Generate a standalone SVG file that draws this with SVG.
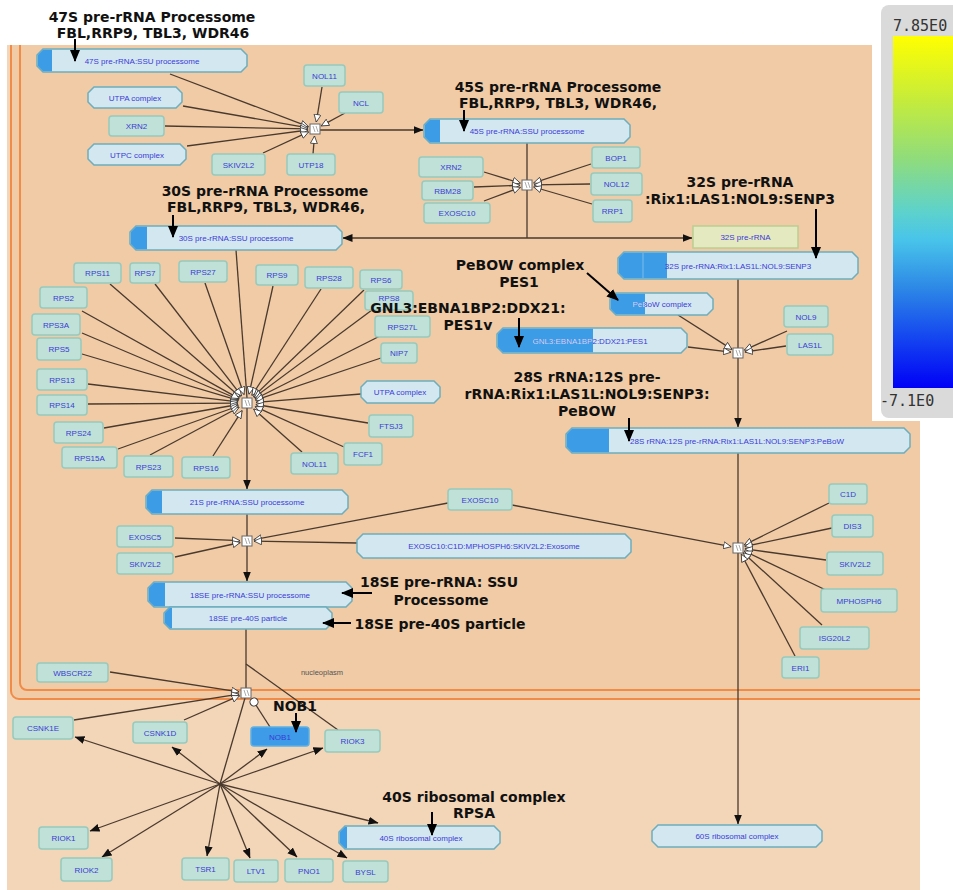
<svg xmlns="http://www.w3.org/2000/svg" width="953" height="890" viewBox="0 0 953 890">
<style>
.prot rect{fill:#BFE1D7;stroke:#97CABD;stroke-width:1.5}
.nob rect{fill:#3D9BE8;stroke:#5FB0E2;stroke-width:1.5}
.cx path{fill:#D3E7F1;stroke:#6DADBC;stroke-width:1.5}
.cx path.st{fill:#3C9CE6;stroke:none}
.rna rect{fill:#E5E9C0;stroke:#B9CE92;stroke-width:1.5}
.n text{font-family:"Liberation Sans",Arial,sans-serif;font-size:8px;fill:#3B3BD6;text-anchor:middle}
.e line{stroke:#4A3A2E;stroke-width:1.3;fill:none}
.e .o{marker-end:url(#open)}
.e .f{marker-end:url(#fill)}
.proc rect{fill:#fff;stroke:#666;stroke-width:1}
.proc path{stroke:#888;stroke-width:0.7;fill:none}
.ann text{font-family:"DejaVu Sans","Liberation Sans",sans-serif;font-weight:bold;font-size:14px;fill:#111;text-anchor:middle}
.ann line{stroke:#000;stroke-width:2;marker-end:url(#ann)}
.cb text{font-family:"DejaVu Sans Mono","Liberation Mono",monospace;font-size:15px;fill:#333}
</style>
<defs>
<marker id="open" markerWidth="9" markerHeight="8" refX="8" refY="4" orient="auto" markerUnits="userSpaceOnUse"><path d="M0.5,0.5 L8,4 L0.5,7.5 Z" fill="#fff" stroke="#333" stroke-width="0.8"/></marker>
<marker id="fill" markerWidth="10" markerHeight="8" refX="9.5" refY="4" orient="auto" markerUnits="userSpaceOnUse"><path d="M0,0 L10,4 L0,8 Z" fill="#111"/></marker>
<marker id="ann" markerWidth="12" markerHeight="10" refX="11" refY="5" orient="auto" markerUnits="userSpaceOnUse"><path d="M0,0 L12,5 L0,10 Z" fill="#000"/></marker>
<marker id="cat" markerWidth="10" markerHeight="10" refX="5" refY="5" orient="auto" markerUnits="userSpaceOnUse"><circle cx="5" cy="5" r="4" fill="#fff" stroke="#333" stroke-width="1"/></marker>
<clipPath id="area"><rect x="7" y="45" width="913" height="845"/></clipPath>
<clipPath id="clipGnl"><rect x="497" y="328" width="96" height="25"/></clipPath>
<clipPath id="clipPeb"><rect x="610" y="293" width="35" height="22"/></clipPath>
<linearGradient id="grad" x1="0" y1="0" x2="0" y2="1">
<stop offset="0" stop-color="#FFFF00"/>
<stop offset="0.18" stop-color="#C6EC3A"/>
<stop offset="0.35" stop-color="#8FDC7C"/>
<stop offset="0.5" stop-color="#5DD2CC"/>
<stop offset="0.58" stop-color="#48C4EA"/>
<stop offset="0.72" stop-color="#2C86E6"/>
<stop offset="0.86" stop-color="#1444F0"/>
<stop offset="1" stop-color="#0000F6"/>
</linearGradient>
</defs>

<rect width="953" height="890" fill="#fff"/>
<g id="compartments" clip-path="url(#area)">
<rect x="7" y="45" width="913" height="845" fill="#F3D5B8"/>
<rect x="11" y="20" width="950" height="679" rx="8" fill="#F0CBA6" stroke="#F08C48" stroke-width="2"/>
<rect x="20" y="20" width="950" height="670" rx="7" fill="none" stroke="#F08C48" stroke-width="2"/>
<text x="322" y="675" font-family="Liberation Sans,Arial,sans-serif" font-size="7.5" fill="#555" text-anchor="middle">nucleoplasm</text>
</g>

<g id="edges" class="e">
<line class="o" x1="170" y1="74" x2="308.4" y2="126.6"/>
<line class="o" x1="183" y1="106" x2="308.1" y2="127.8"/>
<line class="o" x1="165" y1="126" x2="308" y2="128.9"/>
<line class="o" x1="187" y1="146" x2="308.1" y2="130"/>
<line class="o" x1="263" y1="153" x2="308.6" y2="131.9"/>
<line class="o" x1="313" y1="154" x2="314.5" y2="136"/>
<line class="o" x1="322" y1="87" x2="316.3" y2="122"/>
<line class="o" x1="345" y1="113" x2="321.3" y2="125.9"/>
<line class="f" x1="320" y1="130" x2="423" y2="130"/>

<line class="o" x1="484" y1="172" x2="520.3" y2="183.1"/>
<line class="o" x1="474" y1="187" x2="520" y2="185.3"/>
<line class="o" x1="484" y1="201" x2="520.4" y2="187.3"/>
<line class="o" x1="591" y1="164" x2="533.7" y2="182.9"/>
<line class="o" x1="590" y1="184" x2="534" y2="184.9"/>
<line class="o" x1="592" y1="204" x2="533.7" y2="187"/>
<line x1="527" y1="143" x2="527" y2="180"/>
<line x1="527" y1="190" x2="527" y2="238"/>
<line class="f" x1="527" y1="238" x2="343" y2="238"/>
<line class="f" x1="527" y1="238" x2="692" y2="238"/>

<line class="o" x1="678" y1="315" x2="732" y2="349.4"/>
<line class="o" x1="688" y1="347" x2="731" y2="352.2"/>
<line class="o" x1="787" y1="331" x2="744.4" y2="350.1"/>
<line class="o" x1="786" y1="346" x2="744.9" y2="352"/>
<line x1="738" y1="279" x2="738" y2="348"/>
<line class="f" x1="738" y1="358" x2="738" y2="427"/>

<line x1="738" y1="453" x2="738" y2="543"/>
<line class="f" x1="738" y1="553" x2="738" y2="824"/>
<line class="o" x1="512" y1="505" x2="731.1" y2="546.7"/>
<line class="o" x1="829" y1="503" x2="744.3" y2="544.9"/>
<line class="o" x1="832" y1="528" x2="744.8" y2="546.5"/>
<line class="o" x1="826" y1="560" x2="744.9" y2="548.9"/>
<line class="o" x1="830" y1="592" x2="744.3" y2="551"/>
<line class="o" x1="822" y1="625" x2="743.2" y2="552.7"/>
<line class="o" x1="795" y1="656" x2="741.3" y2="554.2"/>

<line x1="236" y1="250" x2="247" y2="398"/>
<line class="f" x1="247" y1="408" x2="247" y2="489"/>
<line class="o" x1="110" y1="284" x2="240.2" y2="397.1"/>
<line class="o" x1="155" y1="284" x2="241.5" y2="395.9"/>
<line class="o" x1="205" y1="283" x2="244" y2="394.5"/>
<line class="o" x1="273" y1="286" x2="249" y2="394.2"/>
<line class="o" x1="321" y1="289" x2="251.9" y2="395.4"/>
<line class="o" x1="364" y1="290" x2="253.5" y2="396.7"/>
<line class="o" x1="372" y1="310" x2="254.2" y2="397.6"/>
<line class="o" x1="380" y1="336" x2="255" y2="399"/>
<line class="o" x1="381" y1="358" x2="255.5" y2="400.1"/>
<line class="o" x1="361" y1="394" x2="256" y2="402.3"/>
<line class="o" x1="368" y1="423" x2="255.9" y2="404.5"/>
<line class="o" x1="344" y1="447" x2="255.2" y2="406.7"/>
<line class="o" x1="302" y1="452" x2="253.7" y2="409"/>
<line class="o" x1="213" y1="456" x2="242.1" y2="410.6"/>
<line class="o" x1="150" y1="455" x2="239.1" y2="407.3"/>
<line class="o" x1="118" y1="449" x2="238.5" y2="406"/>
<line class="o" x1="104" y1="428" x2="238.1" y2="404.5"/>
<line class="o" x1="88" y1="404" x2="238" y2="403.1"/>
<line class="o" x1="88" y1="384" x2="238.1" y2="401.9"/>
<line class="o" x1="82" y1="354" x2="238.4" y2="400.4"/>
<line class="o" x1="82" y1="333" x2="238.7" y2="399.5"/>
<line class="o" x1="82" y1="311" x2="239.1" y2="398.6"/>

<line x1="247" y1="514" x2="247" y2="536"/>
<line class="f" x1="247" y1="546" x2="247" y2="581"/>
<line class="o" x1="175" y1="538" x2="240" y2="540.7"/>
<line class="o" x1="175" y1="557" x2="240.2" y2="542.5"/>
<line class="o" x1="448" y1="503" x2="253.9" y2="539.7"/>
<line class="o" x1="357" y1="543" x2="254" y2="541.1"/>

<line x1="246" y1="629" x2="246" y2="688"/>
<line x1="338" y1="730" x2="246" y2="664"/>
<line class="o" x1="110" y1="672" x2="239.1" y2="691.9"/>
<line class="o" x1="74" y1="720" x2="239.1" y2="694.2"/>
<line class="o" x1="184" y1="720" x2="239.5" y2="695.7"/>
<line x1="270" y1="727" x2="254" y2="702" marker-end="url(#cat)"/>
<line x1="245" y1="698" x2="220" y2="784"/>
<line class="f" x1="220" y1="784" x2="75" y2="737"/>
<line class="f" x1="220" y1="784" x2="172" y2="747"/>
<line class="f" x1="220" y1="784" x2="267" y2="749"/>
<line class="f" x1="220" y1="784" x2="323" y2="748"/>
<line class="f" x1="220" y1="784" x2="378" y2="823"/>
<line class="f" x1="220" y1="784" x2="90" y2="831"/>
<line class="f" x1="220" y1="784" x2="102" y2="857"/>
<line class="f" x1="220" y1="784" x2="207" y2="856"/>
<line class="f" x1="220" y1="784" x2="250" y2="858"/>
<line class="f" x1="220" y1="784" x2="297" y2="857"/>
<line class="f" x1="220" y1="784" x2="347" y2="858"/>
</g>

<g id="processes" class="proc">
<g id="p1"><rect x="310" y="124" width="10" height="10"/><path d="M313,126 L315,132 M316,126 L318,132"/></g>
<g id="p2"><rect x="522" y="180" width="10" height="10"/><path d="M525,182 L527,188 M528,182 L530,188"/></g>
<g id="p3"><rect x="733" y="348" width="10" height="10"/><path d="M736,350 L738,356 M739,350 L741,356"/></g>
<g id="p4"><rect x="733" y="543" width="10" height="10"/><path d="M736,545 L738,551 M739,545 L741,551"/></g>
<g id="p5"><rect x="242" y="536" width="10" height="10"/><path d="M245,538 L247,544 M248,538 L250,544"/></g>
<g id="p6"><rect x="241" y="688" width="10" height="10"/><path d="M244,690 L246,696 M247,690 L249,696"/></g>
<g id="p7"><rect x="242" y="398" width="10" height="10"/><path d="M245,400 L247,406 M248,400 L250,406"/></g>
</g>

<g id="complexes" class="n">
<g id="c47S" class="cx"><path d="M43,49 H241 L247,55 V66 L241,72 H43 L37,66 V55 Z"/><path class="st" d="M43,49.8 H52 V71.2 H43 L37.8,66 V55 Z"/><text x="142" y="63.5">47S pre-rRNA:SSU processome</text></g>
<g id="cUTPA1" class="cx"><path d="M94,87 H176 L182,93 V102 L176,108 H94 L88,102 V93 Z"/><text x="135" y="100.5">UTPA complex</text></g>
<g id="cUTPC" class="cx"><path d="M94,144 H180 L186,150 V159 L180,165 H94 L88,159 V150 Z"/><text x="137" y="157.5">UTPC complex</text></g>
<g id="c45S" class="cx"><path d="M430,119 H624 L630,125 V137 L624,143 H430 L424,137 V125 Z"/><path class="st" d="M430,119.8 H440 V142.2 H430 L424.8,137 V125 Z"/><text x="527" y="134">45S pre-rRNA:SSU processome</text></g>
<g id="c30S" class="cx"><path d="M136,226 H336 L342,232 V244 L336,250 H136 L130,244 V232 Z"/><path class="st" d="M136,226.8 H147 V249.2 H136 L130.8,244 V232 Z"/><text x="236" y="241">30S pre-rRNA:SSU processome</text></g>
<g id="c32S" class="cx"><path d="M624,252 H852 L858,258 V273 L852,279 H624 L618,273 V258 Z"/><path class="st" d="M624,252.8 H667 V278.2 H624 L618.8,273 V258 Z"/><line x1="643" y1="253" x2="643" y2="278" stroke="#7DBCEB" stroke-width="1"/><text x="738" y="268.5">32S pre-rRNA:Rix1:LAS1L:NOL9:SENP3</text></g>
<g id="cPeBoW" class="cx"><path d="M616,293 H707 L713,299 V309 L707,315 H616 L610,309 V299 Z"/><path class="st" d="M616,293.8 H645 V314.2 H616 L610.8,309 V299 Z"/><text x="662" y="307">PeBoW complex</text><text x="662" y="307" clip-path="url(#clipPeb)" style="fill:#D6E8F8">PeBoW complex</text></g>
<g id="cGNL3" class="cx"><path d="M503,328 H681 L687,334 V347 L681,353 H503 L497,347 V334 Z"/><path class="st" d="M503,328.8 H593 V352.2 H503 L497.8,347 V334 Z"/><text x="590" y="343.5">GNL3:EBNA1BP2:DDX21:PES1</text><text x="590" y="343.5" clip-path="url(#clipGnl)" style="fill:#D6E8F8">GNL3:EBNA1BP2:DDX21:PES1</text></g>
<g id="c28S" class="cx"><path d="M572,428 H904 L910,434 V447 L904,453 H572 L566,447 V434 Z"/><path class="st" d="M572,428.8 H609 V452.2 H572 L566.8,447 V434 Z"/><text x="737" y="443.5">28S rRNA:12S pre-rRNA:Rix1:LAS1L:NOL9:SENP3:PeBoW</text></g>
<g id="cUTPA2" class="cx"><path d="M367,381 H434 L440,387 V397 L434,403 H367 L361,397 V387 Z"/><text x="400" y="395">UTPA complex</text></g>
<g id="c21S" class="cx"><path d="M152,490 H342 L348,496 V508 L342,514 H152 L146,508 V496 Z"/><path class="st" d="M152,490.8 H162 V513.2 H152 L146.8,508 V496 Z"/><text x="247" y="505">21S pre-rRNA:SSU processome</text></g>
<g id="cExosome" class="cx"><path d="M363,534 H625 L631,540 V552 L625,558 H363 L357,552 V540 Z"/><text x="494" y="549">EXOSC10:C1D:MPHOSPH6:SKIV2L2:Exosome</text></g>
<g id="c18SE" class="cx"><path d="M154,582 H346 L352,588 V601 L346,607 H154 L148,601 V588 Z"/><path class="st" d="M154,582.8 H165 V606.2 H154 L148.8,601 V588 Z"/><text x="250" y="597.5">18SE pre-rRNA:SSU processome</text></g>
<g id="c18pre40S" class="cx"><path d="M170,607 H326 L332,613 V623 L326,629 H170 L164,623 V613 Z"/><path class="st" d="M170,607.8 H172 V628.2 H170 L164.8,623 V613 Z"/><text x="248" y="621">18SE pre-40S particle</text></g>
<g id="c40S" class="cx"><path d="M345,826 H494 L500,832 V843 L494,849 H345 L339,843 V832 Z"/><path class="st" d="M345,826.8 H347 V848.2 H345 L339.8,843 V832 Z"/><text x="421" y="840.5">40S ribosomal complex</text></g>
<g id="c60S" class="cx"><path d="M658,825 H816 L822,831 V841 L816,847 H658 L652,841 V831 Z"/><text x="737" y="839">60S ribosomal complex</text></g>
<g id="r32S" class="rna"><rect x="693" y="226" width="105" height="22"/><text x="745.5" y="240">32S pre-rRNA</text></g>
</g>

<g id="proteins" class="n">
<g id="NOL11a" class="prot"><rect x="304" y="65" width="41" height="21" rx="3"/><text x="324.5" y="78.5">NOL11</text></g>
<g id="NCL" class="prot"><rect x="339" y="92" width="44" height="21" rx="3"/><text x="361" y="105.5">NCL</text></g>
<g id="XRN2a" class="prot"><rect x="109" y="116" width="55" height="20" rx="3"/><text x="136.5" y="129">XRN2</text></g>
<g id="SKIV2L2a" class="prot"><rect x="212" y="154" width="53" height="21" rx="3"/><text x="238.5" y="167.5">SKIV2L2</text></g>
<g id="UTP18" class="prot"><rect x="287" y="154" width="48" height="21" rx="3"/><text x="311" y="167.5">UTP18</text></g>
<g id="XRN2b" class="prot"><rect x="419" y="157" width="64" height="20" rx="3"/><text x="451" y="170">XRN2</text></g>
<g id="RBM28" class="prot"><rect x="422" y="181" width="51" height="19" rx="3"/><text x="447.5" y="193.5">RBM28</text></g>
<g id="EXOSC10a" class="prot"><rect x="424" y="203" width="66" height="20" rx="3"/><text x="457" y="216">EXOSC10</text></g>
<g id="BOP1" class="prot"><rect x="592" y="147" width="48" height="21" rx="3"/><text x="616" y="160.5">BOP1</text></g>
<g id="NOL12" class="prot"><rect x="591" y="173" width="51" height="22" rx="3"/><text x="616.5" y="187">NOL12</text></g>
<g id="RRP1" class="prot"><rect x="593" y="200" width="39" height="22" rx="3"/><text x="612.5" y="214">RRP1</text></g>
<g id="NOL9" class="prot"><rect x="784" y="306" width="44" height="21" rx="3"/><text x="806" y="319.5">NOL9</text></g>
<g id="LAS1L" class="prot"><rect x="787" y="334" width="46" height="21" rx="3"/><text x="810" y="347.5">LAS1L</text></g>
<g id="RPS11" class="prot"><rect x="74" y="263" width="47" height="20" rx="3"/><text x="97.5" y="276">RPS11</text></g>
<g id="RPS7" class="prot"><rect x="130" y="263" width="30" height="20" rx="3"/><text x="145" y="276">RPS7</text></g>
<g id="RPS27" class="prot"><rect x="179" y="261" width="48" height="21" rx="3"/><text x="203" y="274.5">RPS27</text></g>
<g id="RPS9" class="prot"><rect x="256" y="265" width="42" height="20" rx="3"/><text x="277" y="278">RPS9</text></g>
<g id="RPS28" class="prot"><rect x="305" y="267" width="48" height="21" rx="3"/><text x="329" y="280.5">RPS28</text></g>
<g id="RPS6" class="prot"><rect x="360" y="270" width="42" height="19" rx="3"/><text x="381" y="282.5">RPS6</text></g>
<g id="RPS8" class="prot"><rect x="365" y="291" width="48" height="19" rx="3"/><text x="389" y="301">RPS8</text></g>
<g id="RPS27L" class="prot"><rect x="375" y="316" width="55" height="21" rx="3"/><text x="402.5" y="329.5">RPS27L</text></g>
<g id="NIP7" class="prot"><rect x="381" y="343" width="36" height="20" rx="3"/><text x="399" y="356">NIP7</text></g>
<g id="FTSJ3" class="prot"><rect x="369" y="415" width="44" height="22" rx="3"/><text x="391" y="429">FTSJ3</text></g>
<g id="FCF1" class="prot"><rect x="344" y="443" width="38" height="22" rx="3"/><text x="363" y="457">FCF1</text></g>
<g id="NOL11b" class="prot"><rect x="291" y="453" width="47" height="21" rx="3"/><text x="314.5" y="466.5">NOL11</text></g>
<g id="RPS16" class="prot"><rect x="182" y="457" width="48" height="21" rx="3"/><text x="206" y="470.5">RPS16</text></g>
<g id="RPS23" class="prot"><rect x="124" y="456" width="49" height="21" rx="3"/><text x="148.5" y="469.5">RPS23</text></g>
<g id="RPS15A" class="prot"><rect x="62" y="447" width="55" height="21" rx="3"/><text x="89.5" y="460.5">RPS15A</text></g>
<g id="RPS24" class="prot"><rect x="54" y="422" width="49" height="21" rx="3"/><text x="78.5" y="435.5">RPS24</text></g>
<g id="RPS14" class="prot"><rect x="37" y="395" width="50" height="20" rx="3"/><text x="62" y="408">RPS14</text></g>
<g id="RPS13" class="prot"><rect x="37" y="369" width="50" height="21" rx="3"/><text x="62" y="382.5">RPS13</text></g>
<g id="RPS5" class="prot"><rect x="37" y="338" width="44" height="22" rx="3"/><text x="59" y="352">RPS5</text></g>
<g id="RPS3A" class="prot"><rect x="32" y="314" width="48" height="21" rx="3"/><text x="56" y="327.5">RPS3A</text></g>
<g id="RPS2" class="prot"><rect x="40" y="287" width="47" height="21" rx="3"/><text x="63.5" y="300.5">RPS2</text></g>
<g id="EXOSC10b" class="prot"><rect x="448" y="489" width="64" height="21" rx="3"/><text x="480" y="502.5">EXOSC10</text></g>
<g id="EXOSC5" class="prot"><rect x="117" y="526" width="56" height="21" rx="3"/><text x="145" y="539.5">EXOSC5</text></g>
<g id="SKIV2L2b" class="prot"><rect x="117" y="553" width="56" height="21" rx="3"/><text x="145" y="566.5">SKIV2L2</text></g>
<g id="C1D" class="prot"><rect x="829" y="484" width="38" height="20" rx="3"/><text x="848" y="497">C1D</text></g>
<g id="DIS3" class="prot"><rect x="832" y="515" width="41" height="22" rx="3"/><text x="852.5" y="529">DIS3</text></g>
<g id="SKIV2L2c" class="prot"><rect x="827" y="552" width="56" height="23" rx="3"/><text x="855" y="566.5">SKIV2L2</text></g>
<g id="MPHOSPH6" class="prot"><rect x="821" y="589" width="76" height="23" rx="3"/><text x="859" y="603.5">MPHOSPH6</text></g>
<g id="ISG20L2" class="prot"><rect x="800" y="627" width="69" height="22" rx="3"/><text x="834.5" y="641">ISG20L2</text></g>
<g id="ERI1" class="prot"><rect x="782" y="657" width="37" height="21" rx="3"/><text x="800.5" y="670.5">ERI1</text></g>
<g id="WBSCR22" class="prot"><rect x="37" y="663" width="71" height="19" rx="3"/><text x="72.5" y="675.5">WBSCR22</text></g>
<g id="CSNK1E" class="prot"><rect x="13" y="717" width="60" height="22" rx="3"/><text x="43" y="731">CSNK1E</text></g>
<g id="CSNK1D" class="prot"><rect x="133" y="722" width="54" height="21" rx="3"/><text x="160" y="735.5">CSNK1D</text></g>
<g id="NOB1" class="nob"><rect x="251" y="727" width="58" height="19" rx="3"/><text x="280" y="739.5">NOB1</text></g>
<g id="RIOK3" class="prot"><rect x="325" y="730" width="55" height="22" rx="3"/><text x="352.5" y="744">RIOK3</text></g>
<g id="RIOK1" class="prot"><rect x="39" y="827" width="49" height="22" rx="3"/><text x="63.5" y="841">RIOK1</text></g>
<g id="RIOK2" class="prot"><rect x="61" y="858" width="51" height="23" rx="3"/><text x="86.5" y="872.5">RIOK2</text></g>
<g id="TSR1" class="prot"><rect x="182" y="858" width="47" height="22" rx="3"/><text x="205.5" y="872">TSR1</text></g>
<g id="LTV1" class="prot"><rect x="234" y="860" width="44" height="22" rx="3"/><text x="256" y="874">LTV1</text></g>
<g id="PNO1" class="prot"><rect x="285" y="859" width="48" height="23" rx="3"/><text x="309" y="873.5">PNO1</text></g>
<g id="BYSL" class="prot"><rect x="343" y="861" width="45" height="21" rx="3"/><text x="365.5" y="874.5">BYSL</text></g>
</g>

<g id="annotations" class="ann">
<text x="152" y="22">47S pre-rRNA Processome</text>
<text x="153" y="38">FBL,RRP9, TBL3, WDR46</text>
<line x1="75" y1="39" x2="75" y2="61"/>
<text x="558" y="92">45S pre-rRNA Processome</text>
<text x="558" y="108">FBL,RRP9, TBL3, WDR46,</text>
<line x1="464" y1="110" x2="464" y2="131"/>
<text x="265" y="196">30S pre-rRNA Processome</text>
<text x="266" y="212">FBL,RRP9, TBL3, WDR46,</text>
<line x1="173" y1="215" x2="173" y2="237"/>
<text x="740" y="187">32S pre-rRNA</text>
<text x="740" y="204">:Rix1:LAS1:NOL9:SENP3</text>
<line x1="816" y1="209" x2="816" y2="258"/>
<text x="520" y="270">PeBOW complex</text>
<text x="519" y="287">PES1</text>
<line x1="587" y1="273" x2="618" y2="300"/>
<text x="468" y="313">GNL3:EBNA1BP2:DDX21:</text>
<text x="468" y="330">PES1v</text>
<line x1="519" y1="318" x2="519" y2="347"/>
<text x="587" y="382">28S rRNA:12S pre-</text>
<text x="587" y="399">rRNA:Rix1:LAS1L:NOL9:SENP3:</text>
<text x="587" y="416">PeBOW</text>
<line x1="629" y1="418" x2="629" y2="441"/>
<text x="439" y="587">18SE pre-rRNA: SSU</text>
<text x="441" y="605">Processome</text>
<line x1="372" y1="593" x2="342" y2="593"/>
<text x="440" y="629">18SE pre-40S particle</text>
<line x1="351" y1="623" x2="323" y2="623"/>
<text x="295" y="711">NOB1</text>
<line x1="296" y1="713" x2="296" y2="732"/>
<text x="474" y="802">40S ribosomal complex</text>
<text x="474" y="818">RPSA</text>
<line x1="432" y1="812" x2="432" y2="835"/>
</g>

<g id="colorbar" class="cb">
<rect x="872" y="0" width="81" height="421" fill="#fff"/>
<rect x="881" y="5" width="90" height="413" rx="8" fill="#DADADA"/>
<rect x="893" y="36" width="70" height="352" fill="url(#grad)"/>
<text x="893" y="31">7.85E0</text>
<text x="880" y="406">-7.1E0</text>
</g>
</svg>
